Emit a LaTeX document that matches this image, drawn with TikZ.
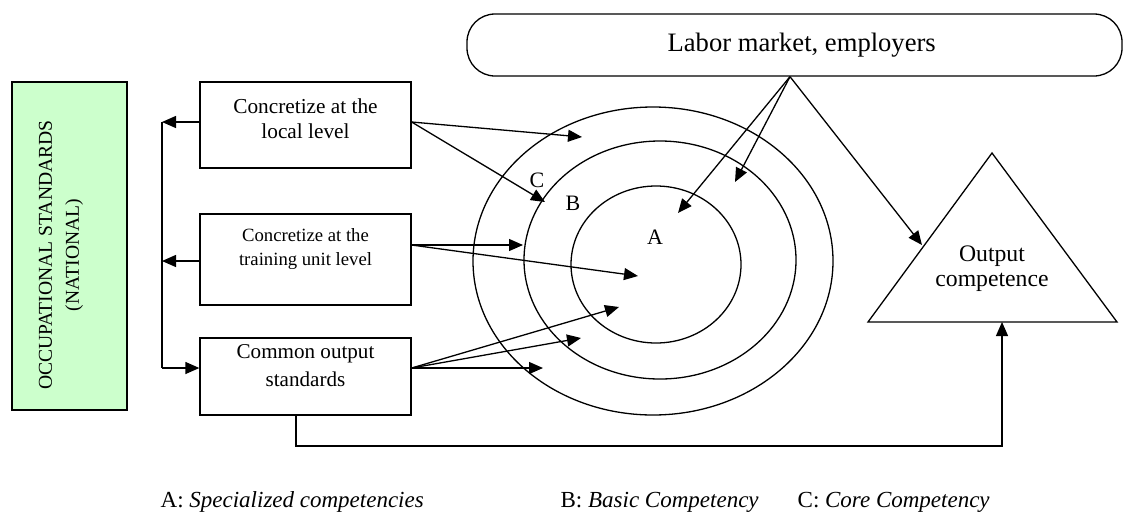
\documentclass[tikz,border=0pt]{standalone}
\usepackage{fontspec}
\setmainfont{Liberation Serif}
\usetikzlibrary{arrows.meta,shapes.geometric}
\definecolor{stdgreen}{RGB}{204,255,204}
\begin{document}
\begin{tikzpicture}[x=1pt,y=-1pt, line width=1.3pt,
  box/.style={draw, rectangle, minimum width=211pt, inner sep=0pt},
  ring/.style={draw, ellipse, inner sep=0pt},
  arr/.style={-{Triangle[length=14pt,width=12pt]}},
  txt/.style={align=center, inner sep=0pt},
]
\useasboundingbox (0,0) rectangle (1124,515);

% left green box
\node[draw, fill=stdgreen, minimum width=115pt, minimum height=328pt, inner sep=0pt] (occ) at (69.5,246) {};
\node[txt, rotate=90, font=\fontsize{19.6}{27}\selectfont] (occtxt) at (61,255) {OCCUPATIONAL STANDARDS\\(NATIONAL)};

% three boxes
\node[box, minimum height=86pt] (local) at (305.5,125) {};
\node[txt, font=\fontsize{21.3}{25}\selectfont] (localtxt) at (305.5,118.5) {Concretize at the\\local level};
\node[box, minimum height=91pt] (training) at (305.5,259.5) {};
\node[txt, font=\fontsize{18.7}{24}\selectfont] (trainingtxt) at (305.5,249.5) {Concretize at the\\training unit level};
\node[box, minimum height=77pt] (common) at (305.5,376.5) {};
\node[txt, font=\fontsize{21.1}{28}\selectfont] (commontxt) at (305.5,366) {Common output\\standards};

% labor market
\node[draw, rounded corners=28pt, minimum width=655pt, minimum height=62pt, inner sep=0pt] (labor) at (794.5,45) {};
\node[anchor=base west, inner sep=0pt, font=\fontsize{26.6}{30}\selectfont] (labortxt) at (667,51) {Labor market, employers};

% rings
\node[ring, minimum width=360pt, minimum height=308pt] (ringC) at (653,261) {};
\node[ring, minimum width=272pt, minimum height=238pt] (ringB) at (660,260) {};
\node[ring, minimum width=170pt, minimum height=157pt] (ringA) at (656,264.5) {};
\node[inner sep=0pt, font=\fontsize{22}{24}\selectfont] (labC) at (537,180) {C};
\node[inner sep=0pt, font=\fontsize{22}{24}\selectfont] (labB) at (573,203) {B};
\node[inner sep=0pt, font=\fontsize{22}{24}\selectfont] (labA) at (655,237) {A};

% triangle
\coordinate (tT) at (992,153);
\coordinate (tL) at (868,322);
\coordinate (tR) at (1117,322);
\draw[line join=miter] (tT) -- (tL) -- (tR) -- cycle;
\node[txt, font=\fontsize{23.7}{25}\selectfont] (outtxt) at (992,269) {Output\\competence};

% arrow end points
\coordinate (pA1) at (678,213);
\coordinate (pB1) at (735,182);
\coordinate (pOut) at (922,245);
\coordinate (pL1) at (582,137);
\coordinate (pL2) at (545,202);
\coordinate (pT1) at (523,245);
\coordinate (pT2) at (638,276);
\coordinate (pC1) at (619,307);
\coordinate (pC2) at (581,338);
\coordinate (pC3) at (543,368);
\coordinate (vtop) at (162,122);
\coordinate (vmid) at (162,261);
\coordinate (vbot) at (162,368);
\coordinate (tbase) at (1002,322);
\coordinate (bl) at (296,446);

% labor market arrows
\draw[arr] ([xshift=-4.5pt]labor.south) -- (pA1);
\draw[arr] ([xshift=-4.5pt]labor.south) -- (pB1);
\draw[arr] ([xshift=-4.5pt]labor.south) -- (pOut);

% left connector
\draw[arr] ([yshift=3pt]local.west) -- (vtop);
\draw[arr] ([yshift=-1.5pt]training.west) -- (vmid);
\draw (vtop) -- (vbot);
\draw[arr] (vbot) -- ([yshift=8.5pt]common.west);

% box to ring arrows
\draw[arr] ([yshift=3pt]local.east) -- (pL1);
\draw[arr] ([yshift=3pt]local.east) -- (pL2);
\draw[arr] ([yshift=14.5pt]training.east) -- (pT1);
\draw[arr] ([yshift=14.5pt]training.east) -- (pT2);
\draw[arr] ([yshift=8.5pt]common.east) -- (pC1);
\draw[arr] ([yshift=8.5pt]common.east) -- (pC2);
\draw[arr] ([yshift=8.5pt]common.east) -- (pC3);

% bottom connector
\draw[arr] ([xshift=-9.5pt]common.south) -- (bl) -| (tbase);

% legend
\node[anchor=base west, inner sep=0pt, font=\fontsize{23}{25}\selectfont] (legA) at (160,507) {A: \textit{Specialized competencies}};
\node[anchor=base west, inner sep=0pt, font=\fontsize{23}{25}\selectfont] (legB) at (560,507) {B: \textit{Basic Competency}};
\node[anchor=base west, inner sep=0pt, font=\fontsize{23}{25}\selectfont] (legC) at (797,507) {C: \textit{Core Competency}};
\end{tikzpicture}
\end{document}
